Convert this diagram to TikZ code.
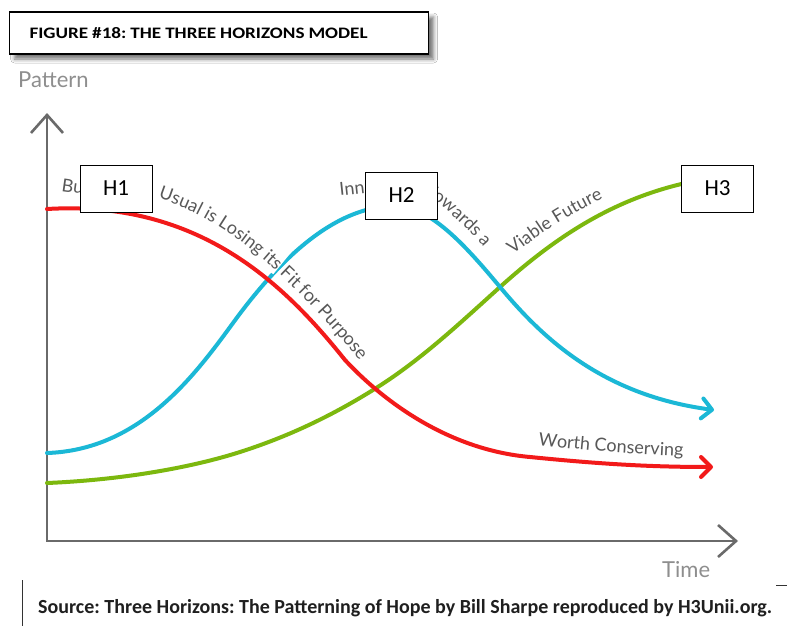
\documentclass[tikz,border=0pt]{standalone}
\usepackage{fontspec}
\setmainfont{Carlito}
\newfontfamily\labelfont{Lato}
\usetikzlibrary{arrows.meta,decorations.text,shadows.blur}
\frenchspacing

\definecolor{hred}{HTML}{F21A1A}
\definecolor{hcyan}{HTML}{1BB8D6}
\definecolor{hgreen}{HTML}{7CB80E}
\definecolor{axisgray}{HTML}{6A6A6A}
\definecolor{labelgray}{HTML}{585858}
\definecolor{softgray}{HTML}{8E8E8E}

\tikzset{
  curve/.style={line width=4pt, line cap=round, -{Straight Barb[length=10pt,width=20pt,round]}},
  plaincurve/.style={line width=4pt, line cap=round},
  axisline/.style={line width=2.6pt, draw=axisgray, line join=miter,
    {Straight Barb[length=18pt,width=32pt]}-{Straight Barb[length=18pt,width=32pt]}},
  hbox/.style={draw=black, line width=1pt, fill=white, minimum width=72pt,
    minimum height=47pt, inner sep=0pt, font=\fontsize{23}{23}\selectfont},
  titlebox/.style={draw=black, line width=1.2pt, fill=white, anchor=west,
    minimum height=42pt, text width=379pt, inner xsep=20pt, inner ysep=0pt,
    blur shadow={shadow xshift=5pt, shadow yshift=-5pt, shadow blur radius=4pt, shadow opacity=55}},
  curvelabel/.style={text=labelgray, inner sep=0pt, font=\labelfont\fontsize{18}{18}\selectfont},
  axislabel/.style={text=softgray, inner sep=0pt, font=\labelfont\fontsize{22}{22}\selectfont},
  alongpath/.style={decorate, decoration={text along path, text align=left,
    text color=labelgray, text={|\labelfont\fontsize{18}{18}\selectfont|#1}}}
}

\begin{document}
\begin{tikzpicture}[x=1pt,y=-1pt]
\useasboundingbox (0,0) rectangle (787,626);
\fill[white] (0,0) rectangle (787,626);

% heading
\node[titlebox] (title) at (9,33)
  {\resizebox{338pt}{\height}{\fontsize{16}{16}\selectfont\bfseries FIGURE \#18: THE THREE HORIZONS MODEL}};

% axes
\coordinate (origin) at (47,541);
\coordinate (ytip) at (47,113);
\coordinate (xtip) at (738,541);
\draw[axisline] (ytip) -- (origin) -- (xtip);
\node[axislabel, anchor=base west] (pattern) at (18,88) {Pattern};
\node[axislabel, anchor=base west] (time) at (662,577) {Time};

% third horizon
\coordinate (g0) at (47,483);
\coordinate (g1) at (240,452);
\coordinate (g2) at (373,390);
\coordinate (g3) at (500,287);
\coordinate (g4) at (700,180);
\draw[plaincurve, hgreen] (g0) .. controls (120,480) and (190,468) .. (g1)
  .. controls (285,437.6) and (328,418) .. (g2)
  .. controls (420,361) and (460,323) .. (g3)
  .. controls (560,233) and (620,195) .. (g4);

% second horizon
\coordinate (c0) at (47,453);
\coordinate (c1) at (233,323);
\coordinate (c2) at (395,206);
\coordinate (c3) at (500,287);
\coordinate (c4) at (714,410);
\draw[curve, hcyan] (c0) .. controls (140,450) and (195,375) .. (c1)
  .. controls (273,268) and (330,206) .. (c2)
  .. controls (430,206) and (465,245) .. (c3)
  .. controls (540,335) and (600,395) .. (c4);
% break in the rising branch behind the label
\draw[white, line width=7pt] (270.5,272) -- (288.5,250);

% first horizon
\coordinate (r0) at (47,209);
\coordinate (r1) at (345,360);
\coordinate (r2) at (530,457);
\coordinate (r3) at (713,467);
\draw[curve, hred] (r0) .. controls (200,200) and (285,285) .. (r1)
  .. controls (385,403) and (450,450) .. (r2)
  .. controls (600,464) and (650,467) .. (r3);

% labels along the curves
\node[curvelabel, anchor=base west, rotate=-8] (bu) at (61,191) {Bu};
\path[alongpath={Usual is Losing its Fit for Purpose}]
  (158,198) .. controls (215,217) and (268,250) .. (366,368);
\node[curvelabel, anchor=base west, rotate=6] (inn) at (340,196) {Inn};
\path[alongpath={Towards a}]
  (423,193) .. controls (448,209) and (474,233) .. (504,272);
\path[alongpath={Viable Future}]
  (513,255) .. controls (540,234) and (572,212) .. (614,194);
\path[alongpath={Worth Conserving}]
  (538,445) .. controls (590,451) and (640,455) .. (700,457);

% horizon markers
\node[hbox] (h1) at (116,188.5) {H1};
\node[hbox] (h2) at (401.5,195.5) {H2};
\node[hbox] (h3) at (717.5,188.5) {H3};

% source line
\draw[line width=1pt, black!80] (22,580) -- (22,626);
\draw[line width=1pt, black!80] (776,585) -- (787,585);
\node[anchor=base west, inner sep=0pt, text=black!88] (source) at (38,613)
  {\resizebox{734pt}{\height}{\fontsize{20}{20}\selectfont\bfseries Source: Three Horizons: The Patterning of Hope by Bill Sharpe reproduced by H3Unii.org.}};
\end{tikzpicture}
\end{document}
